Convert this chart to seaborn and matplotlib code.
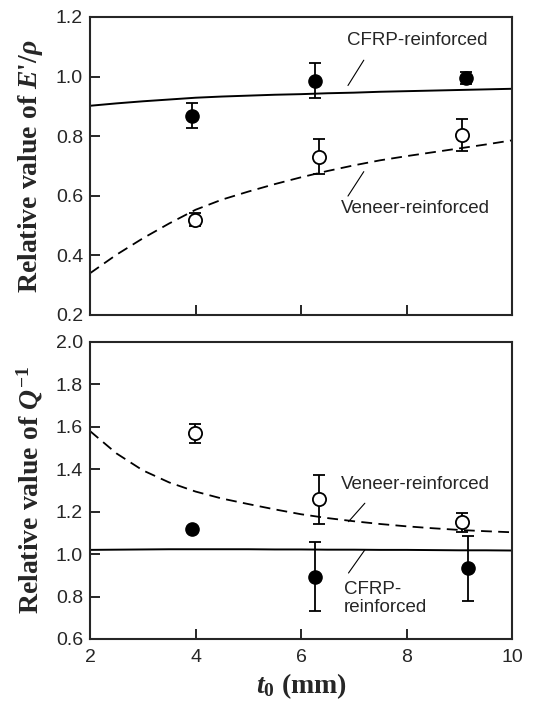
import numpy as np
import pandas as pd
import matplotlib
matplotlib.use("Agg")
import matplotlib.pyplot as plt
import seaborn as sns

# ---- data ----
# top panel: relative E'/rho
cfrp_x_top = [3.93, 6.27, 9.13]
cfrp_E = [0.869, 0.986, 0.995]
cfrp_E_err = [0.043, 0.058, 0.02]
ven_x_top = [3.99, 6.35, 9.05]
ven_E = [0.52, 0.731, 0.805]
ven_E_err = [0.022, 0.059, 0.054]

# fitted curves, read every 0.5 mm of t0
curve_x = [2.0, 2.5, 3.0, 3.5, 4.0, 4.5, 5.0, 5.5, 6.0,
           6.5, 7.0, 7.5, 8.0, 8.5, 9.0, 9.5, 10.0]
cfrp_E_curve = [0.902, 0.910, 0.917, 0.923, 0.929, 0.933, 0.936, 0.939, 0.941,
                0.944, 0.946, 0.949, 0.951, 0.953, 0.955, 0.957, 0.959]
ven_E_curve = [0.340, 0.402, 0.457, 0.507, 0.553, 0.587, 0.614, 0.639, 0.662,
               0.683, 0.702, 0.719, 0.733, 0.746, 0.759, 0.772, 0.786]

# bottom panel: relative Q^-1
cfrp_x_bot = [3.94, 6.27, 9.16]
cfrp_Q = [1.119, 0.894, 0.933]
cfrp_Q_err = [0.0, 0.161, 0.153]
ven_x_bot = [3.99, 6.35, 9.05]
ven_Q = [1.569, 1.258, 1.150]
ven_Q_err = [0.045, 0.115, 0.045]

cfrp_Q_curve = [1.020, 1.021, 1.022, 1.023, 1.023, 1.023, 1.023, 1.022, 1.022,
                1.021, 1.021, 1.020, 1.020, 1.019, 1.018, 1.018, 1.017]
ven_Q_curve = [1.580, 1.475, 1.395, 1.338, 1.295, 1.262, 1.236, 1.211, 1.188,
               1.170, 1.155, 1.142, 1.131, 1.122, 1.114, 1.108, 1.103]

sns.set_style("ticks")
plt.rcParams['font.family'] = ['Liberation Sans', 'DejaVu Sans']
plt.rcParams['mathtext.fontset'] = 'custom'
plt.rcParams['mathtext.rm'] = 'Liberation Serif:bold'
plt.rcParams['mathtext.it'] = 'Liberation Serif:italic:bold'
plt.rcParams['mathtext.bf'] = 'Liberation Serif:bold'

fig = plt.figure(figsize=(5.4, 7.07), dpi=100)
ax1 = fig.add_axes([0.1667, 0.5545, 0.7815, 0.4215])
ax2 = fig.add_axes([0.1667, 0.0962, 0.7815, 0.4201])

lab_font = dict(family='Liberation Serif', weight='bold', size=20)


def draw_panel(ax, xf, yf, ef, xo, yo, eo, c_cfrp, c_ven):
    df = pd.DataFrame({'t0': curve_x, 'cfrp': c_cfrp, 'ven': c_ven})
    sns.lineplot(data=df, x='t0', y='cfrp', ax=ax, color='black', lw=1.4,
                 estimator=None, sort=False)
    sns.lineplot(data=df, x='t0', y='ven', ax=ax, color='black', lw=1.3,
                 linestyle=(0, (6, 3.5)), estimator=None, sort=False)
    ax.errorbar(xf, yf, yerr=ef, fmt='o', color='black', ms=9.5,
                capsize=4.5, elinewidth=1.3, capthick=1.3, zorder=3)
    ax.errorbar(xo, yo, yerr=eo, fmt='o', color='black', mfc='white',
                mec='black', mew=1.3, ms=9.5, capsize=4.5, elinewidth=1.3,
                capthick=1.3, zorder=3)
    ax.set_xlim(2, 10)
    ax.set_xticks([2, 4, 6, 8, 10])
    for s in ax.spines.values():
        s.set_visible(True)
        s.set_linewidth(1.5)
    ax.tick_params(direction='in', length=7, width=1.4, labelsize=14,
                   pad=5, top=False, right=False)
    ax.tick_params(axis='x', pad=7)


draw_panel(ax1, cfrp_x_top, cfrp_E, cfrp_E_err, ven_x_top, ven_E, ven_E_err,
           cfrp_E_curve, ven_E_curve)
ax1.set_ylim(0.2, 1.2)
ax1.set_yticks([0.2, 0.4, 0.6, 0.8, 1.0, 1.2])
ax1.set_yticklabels(['0.2', '0.4', '0.6', '0.8', '1.0', '1.2'])
ax1.set_xticklabels([])
ax1.set_xlabel('')
ax1.set_ylabel(r"Relative value of $E$'/$\rho$", fontdict=lab_font,
               labelpad=8)

draw_panel(ax2, cfrp_x_bot, cfrp_Q, cfrp_Q_err, ven_x_bot, ven_Q, ven_Q_err,
           cfrp_Q_curve, ven_Q_curve)
ax2.set_ylim(0.6, 2.0)
ax2.set_yticks([0.6, 0.8, 1.0, 1.2, 1.4, 1.6, 1.8, 2.0])
ax2.set_yticklabels(['0.6', '0.8', '1.0', '1.2', '1.4', '1.6', '1.8', '2.0'])
ax2.set_xticklabels(['2', '4', '6', '8', '10'])
ax2.set_ylabel(r"Relative value of $Q^{\mathrm{-1}}$", fontdict=lab_font,
               labelpad=8)
ax2.set_xlabel(r"$t_{\mathrm{0}}$ (mm)", fontdict=lab_font, labelpad=4)

# annotations
ax1.text(8.2, 1.12, 'CFRP-reinforced', fontsize=13.5, ha='center', va='center')
ax1.plot([7.19, 6.89], [1.055, 0.970], color='black', lw=0.8)
ax1.text(8.17, 0.558, 'Veneer-reinforced', fontsize=13.5, ha='center',
         va='center')
ax1.plot([7.19, 6.89], [0.681, 0.599], color='black', lw=0.8)

ax2.text(8.17, 1.33, 'Veneer-reinforced', fontsize=13.5, ha='center',
         va='center')
ax2.plot([7.21, 6.90], [1.240, 1.153], color='black', lw=0.8)
ax2.text(6.81, 0.79, 'CFRP-\nreinforced', fontsize=13.5, ha='left',
         va='center', linespacing=1.05)
ax2.plot([7.21, 6.90], [1.020, 0.911], color='black', lw=0.8)

fig.savefig('out.png', dpi=100)
